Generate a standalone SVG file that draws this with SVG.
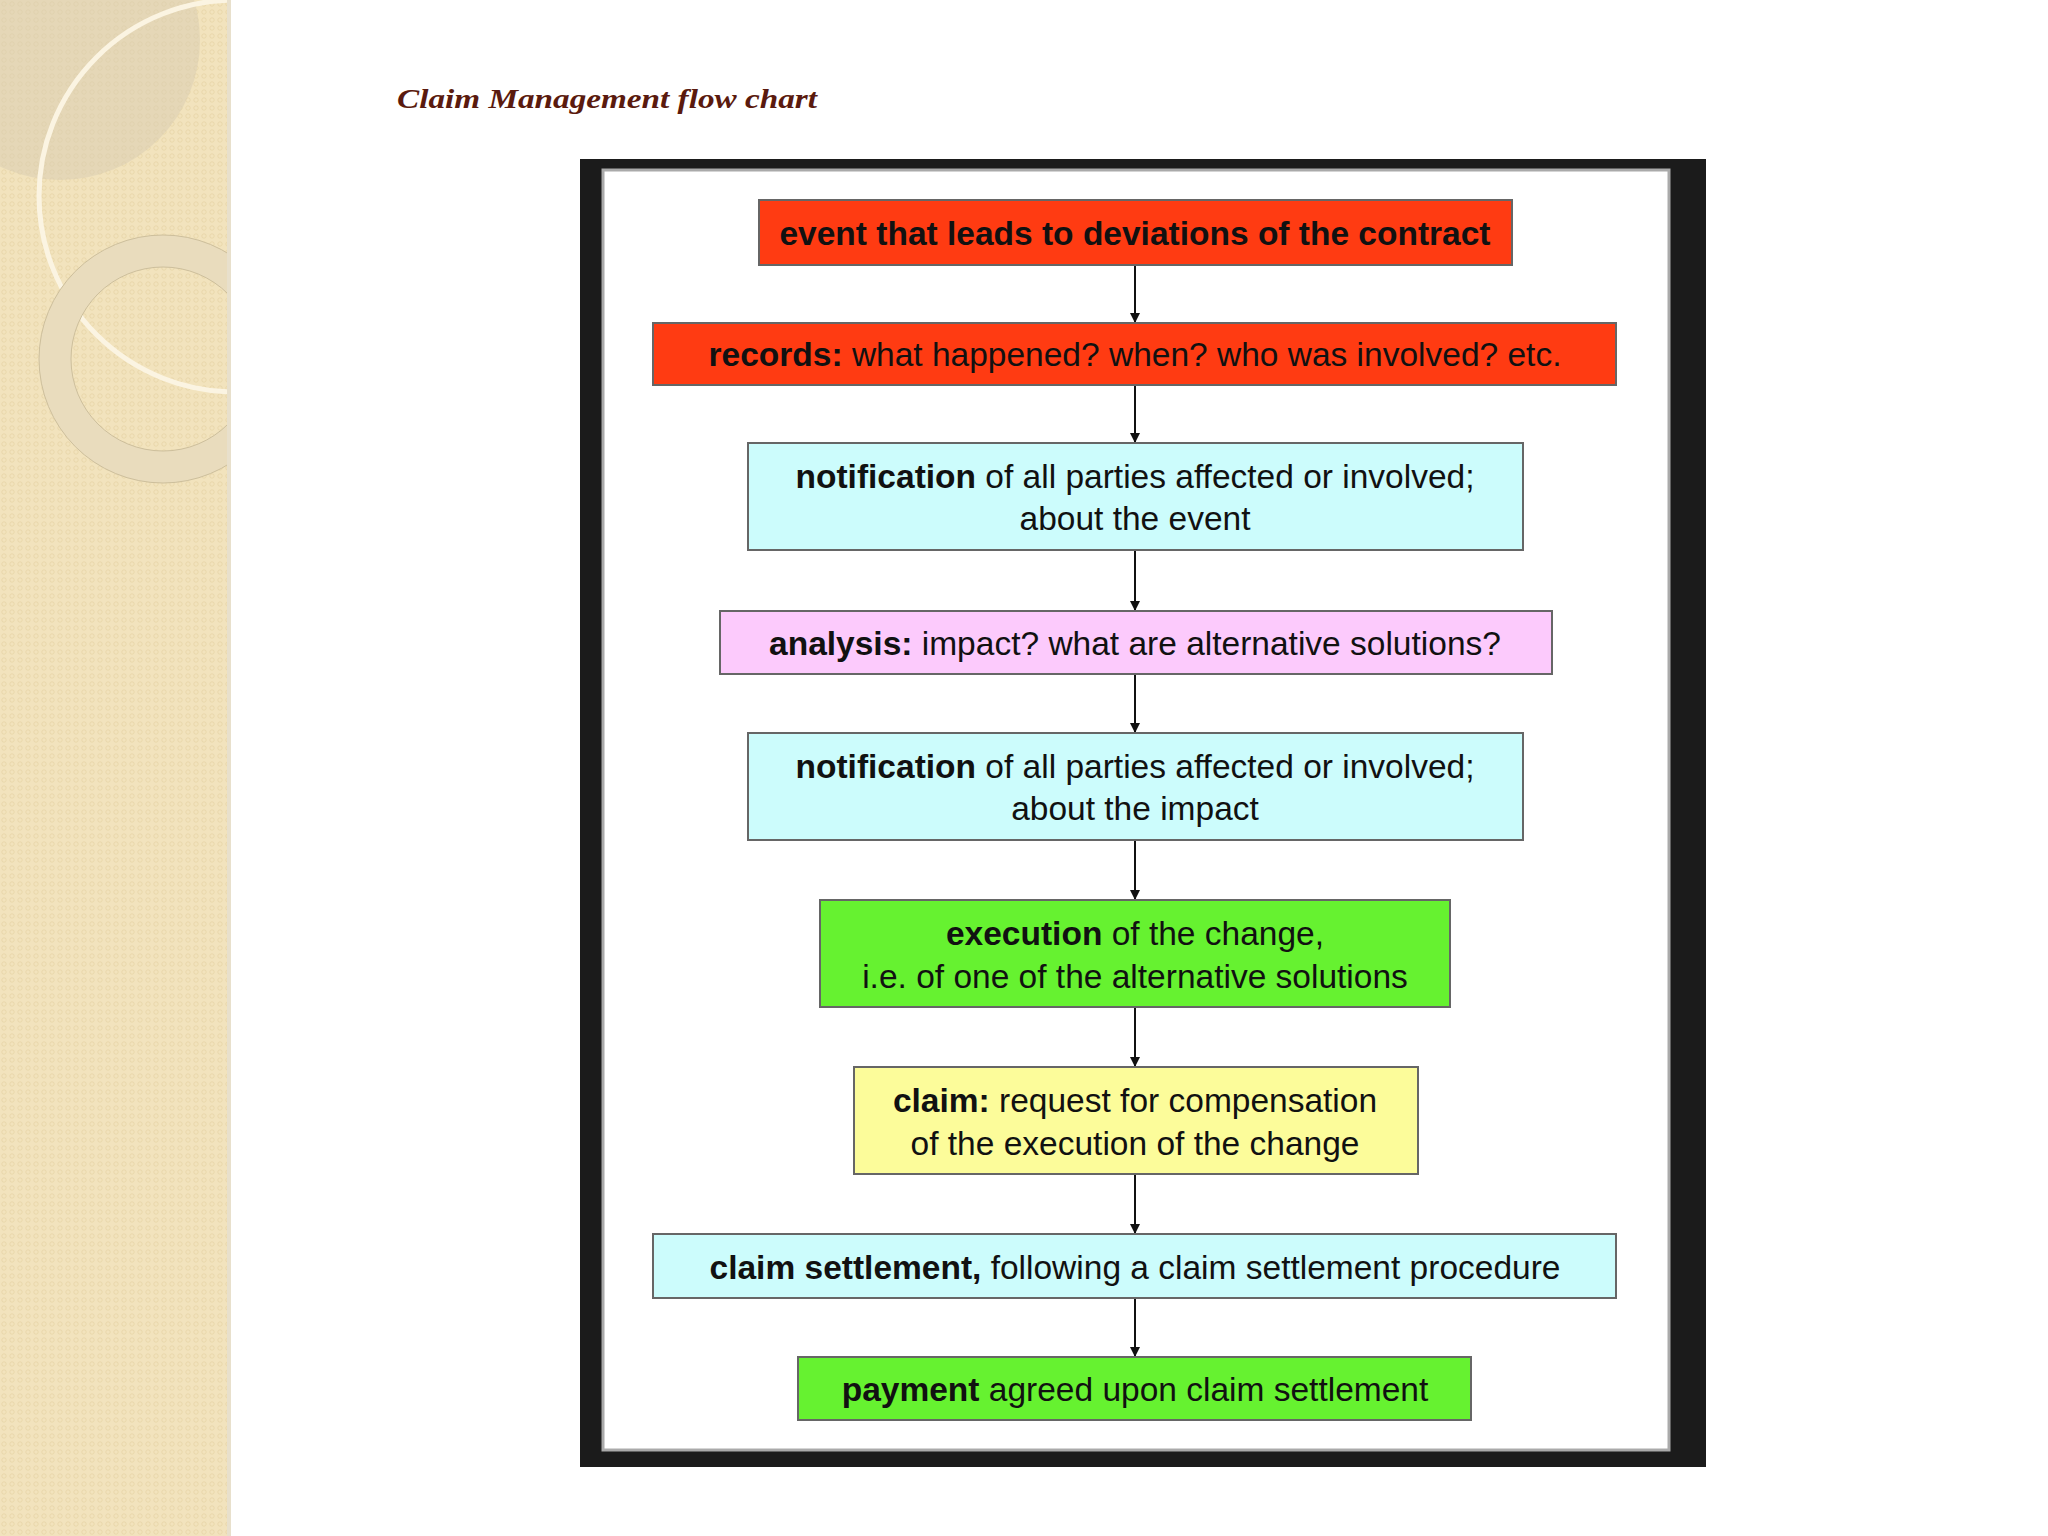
<svg xmlns="http://www.w3.org/2000/svg" width="2048" height="1536" viewBox="0 0 2048 1536">
<defs>
<pattern id="dots" width="8" height="8" patternUnits="userSpaceOnUse"><rect width="8" height="8" fill="#f2e3bd"/><circle cx="4" cy="4" r="2.2" fill="none" stroke="#e6d3a6" stroke-width="0.8"/></pattern>
<clipPath id="side"><rect x="0" y="0" width="227" height="1536"/></clipPath>
<marker id="ah" viewBox="0 0 10 10" refX="10" refY="5" markerWidth="10" markerHeight="10" markerUnits="userSpaceOnUse" orient="auto"><path d="M0,0 L10,5 L0,10 z" fill="#111"/></marker>
</defs>
<style>
.box{stroke:#666;stroke-width:2}
.red{fill:#ff3b12}.cyan{fill:#ccfcfc}.pink{fill:#fccafc}.green{fill:#66f230}.yellow{fill:#fcfc9a}
.t{font-family:"Liberation Sans",Arial,sans-serif;font-size:33.5px;fill:#111;text-anchor:middle}
.b{font-weight:bold}
.c{stroke:#111;stroke-width:2;fill:none;marker-end:url(#ah)}
</style>
<rect width="2048" height="1536" fill="#fff"/>
<g id="sidebar" clip-path="url(#side)">
<rect width="227" height="1536" fill="url(#dots)"/>
<circle cx="60" cy="40" r="140" fill="#d8ccb2" opacity="0.5"/>
<circle cx="235" cy="196" r="196" fill="none" stroke="#fbf4e2" stroke-width="5"/>
<circle cx="163" cy="359" r="108" fill="none" stroke="#e9dcbd" stroke-width="32"/>
<circle cx="163" cy="359" r="124" fill="none" stroke="#cdbf9c" stroke-width="1"/>
<circle cx="163" cy="359" r="92" fill="none" stroke="#cdbf9c" stroke-width="1"/>
</g>
<rect x="227" y="0" width="4" height="1536" fill="#e8e0cc"/>
<text x="397" y="108" textLength="420" lengthAdjust="spacingAndGlyphs" style="font-family:'Liberation Serif',serif;font-size:28px;font-weight:bold;font-style:italic;fill:#5a1a0e">Claim Management flow chart</text>
<rect x="580" y="159" width="1126" height="1308" fill="#1b1b1b"/>
<rect x="603" y="170" width="1066" height="1280" fill="#fff" stroke="#aaa" stroke-width="3"/>
<g id="connectors">
<line class="c" x1="1135" y1="265" x2="1135" y2="323"/>
<line class="c" x1="1135" y1="385" x2="1135" y2="443"/>
<line class="c" x1="1135" y1="550" x2="1135" y2="611"/>
<line class="c" x1="1135" y1="674" x2="1135" y2="733"/>
<line class="c" x1="1135" y1="840" x2="1135" y2="900"/>
<line class="c" x1="1135" y1="1007" x2="1135" y2="1067"/>
<line class="c" x1="1135" y1="1174" x2="1135" y2="1234"/>
<line class="c" x1="1135" y1="1298" x2="1135" y2="1357"/>
</g>
<g id="n1"><rect class="box red" x="759" y="200" width="753" height="65"/><text class="t b" x="1135" y="245">event that leads to deviations of the contract</text></g>
<g id="n2"><rect class="box red" x="653" y="323" width="963" height="62"/><text class="t" x="1135" y="366"><tspan class="b">records:</tspan> what happened? when? who was involved? etc.</text></g>
<g id="n3"><rect class="box cyan" x="748" y="443" width="775" height="107"/><text class="t" x="1135" y="488"><tspan class="b">notification</tspan> of all parties affected or involved;</text><text class="t" x="1135" y="530">about the event</text></g>
<g id="n4"><rect class="box pink" x="720" y="611" width="832" height="63"/><text class="t" x="1135" y="655"><tspan class="b">analysis:</tspan> impact? what are alternative solutions?</text></g>
<g id="n5"><rect class="box cyan" x="748" y="733" width="775" height="107"/><text class="t" x="1135" y="778"><tspan class="b">notification</tspan> of all parties affected or involved;</text><text class="t" x="1135" y="820">about the impact</text></g>
<g id="n6"><rect class="box green" x="820" y="900" width="630" height="107"/><text class="t" x="1135" y="945"><tspan class="b">execution</tspan> of the change,</text><text class="t" x="1135" y="988">i.e. of one of the alternative solutions</text></g>
<g id="n7"><rect class="box yellow" x="854" y="1067" width="564" height="107"/><text class="t" x="1135" y="1112"><tspan class="b">claim:</tspan> request for compensation</text><text class="t" x="1135" y="1155">of the execution of the change</text></g>
<g id="n8"><rect class="box cyan" x="653" y="1234" width="963" height="64"/><text class="t" x="1135" y="1279"><tspan class="b">claim settlement,</tspan> following a claim settlement procedure</text></g>
<g id="n9"><rect class="box green" x="798" y="1357" width="673" height="63"/><text class="t" x="1135" y="1401"><tspan class="b">payment</tspan> agreed upon claim settlement</text></g>
</svg>
